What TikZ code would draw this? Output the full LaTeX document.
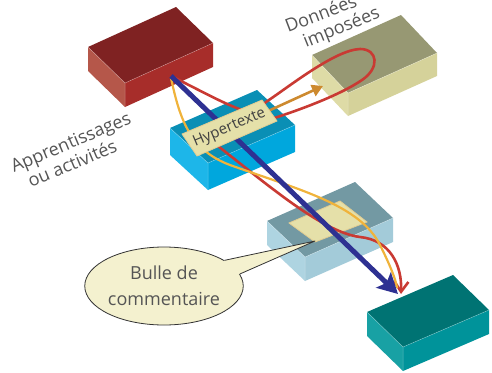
\documentclass[tikz,border=0pt]{standalone}
\usepackage{fontspec}
\setmainfont{Open Sans}
\usetikzlibrary{arrows.meta,shapes.geometric}

\definecolor{apprtop}{HTML}{7F2222}
\definecolor{apprleft}{HTML}{B5574A}
\definecolor{apprright}{HTML}{A72D2A}
\definecolor{datatop}{HTML}{979873}
\definecolor{dataleft}{HTML}{DEDBA6}
\definecolor{dataright}{HTML}{D5D29A}
\definecolor{hyptop}{HTML}{0A8FB5}
\definecolor{hypleft}{HTML}{1DB6E9}
\definecolor{hypright}{HTML}{00A7DD}
\definecolor{comtop}{HTML}{7399A3}
\definecolor{comleft}{HTML}{AED4E1}
\definecolor{comright}{HTML}{A3CBD9}
\definecolor{outtop}{HTML}{007373}
\definecolor{outleft}{HTML}{18A1A4}
\definecolor{outright}{HTML}{00939A}
\definecolor{flowblue}{HTML}{2E3192}
\definecolor{flowred}{HTML}{C93A33}
\definecolor{flowyellow}{HTML}{F0B33B}
\definecolor{floworange}{HTML}{CD8A2F}
\definecolor{paper}{HTML}{E5E0A9}
\definecolor{paperedge}{HTML}{E2CD92}
\definecolor{bubblefill}{HTML}{F4F1CF}
\definecolor{textgrey}{HTML}{555555}

\tikzset{box edge/.style={draw=white,draw opacity=0.35,line width=0.5pt},
         caption/.style={rotate=23,inner sep=0pt,anchor=base west,text=textgrey,font=\fontsize{18}{22}\selectfont},
         hyper label/.style={rotate=23,inner sep=0pt,text=black!75,font=\fontsize{15}{18}\selectfont},
         bubble/.style={ellipse,draw=black!80,fill=bubblefill,line width=0.8pt,minimum width=152pt,minimum height=78pt,inner sep=0pt,align=center,text=textgrey,font=\fontsize{18}{26}\selectfont}
}

% #1 name, #2-#3 front top corner, #4-#5 left side, #6-#7 right side, #8 height, #9 colour prefix
\newcommand{\isobox}[9]{%
  \begin{scope}[shift={(#2,#3)}]
    \coordinate (#1) at (0,0);
    \fill[#9top] (0,0) -- (#4,#5) -- ({#4+#6},{#5+#7}) -- (#6,#7) -- cycle;
    \fill[#9left] (0,0) -- (#4,#5) -- (#4,{#5+#8}) -- (0,#8) -- cycle;
    \fill[#9right] (0,0) -- (#6,#7) -- (#6,{#7+#8}) -- (0,#8) -- cycle;
    \draw[box edge] (#4,#5) -- (0,0) -- (#6,#7) (0,0) -- (0,#8);
  \end{scope}}

\begin{document}
\begin{tikzpicture}[x=1pt,y=-1pt,
    flow/.style={line width=2.6pt,draw=flowred},
    detour/.style={line width=2.2pt,draw=flowyellow},
    main flow/.style={line width=5pt,draw=flowblue,-{Stealth[length=20pt,width=21pt,inset=4pt]}}]
\useasboundingbox (0,0) rectangle (492,372);

% the five blocks
\isobox{appr}{125}{83}{-37}{-36}{88}{-40}{24}{appr}
\isobox{data}{348}{93}{-36}{-38}{89}{-40}{23}{data}
\isobox{hypbox}{208}{163}{-38}{-35}{87}{-38}{27}{hyp}
\isobox{combox}{305}{257}{-38}{-36}{88}{-39}{24}{com}
\isobox{outbox}{403}{347}{-36}{-35}{86}{-37}{24}{out}
\filldraw[fill=paper,draw=paperedge,line width=0.8pt] (289,223) -- (340,201) -- (367,222) -- (315,242) -- cycle;

% ends of the connectors
\coordinate (apprOut) at (173,77);
\coordinate (hypIn) at (248,112);
\coordinate (hypBack) at (268,120);
\coordinate (hypOut) at (205,136);
\coordinate (hypSide) at (266,112);
\coordinate (dataIn) at (323,86);
\coordinate (outIn) at (401,294);

% red path: through the hypertext, round the data block, down to the output
\draw[flow] (apprOut) .. controls (205,93) and (228,106) .. (hypIn)
    .. controls (256,114) and (260,106) .. (266,102)
    .. controls (290,86) and (335,50) .. (360,49)
    .. controls (378,49) and (380,68) .. (362,80)
    .. controls (340,95) and (300,110) .. (hypBack);
\draw[flow,-{Straight Barb[length=10pt,width=14pt]}] (hypOut)
    .. controls (260,178) and (320,232) .. (360,237)
    .. controls (390,240) and (402,265) .. (outIn);

% yellow path
\draw[detour] (171,78) .. controls (180,120) and (190,150) .. (230,165)
    .. controls (300,190) and (360,205) .. (380,245)
    .. controls (390,265) and (396,280) .. (397,288);

\draw[floworange,line width=2.6pt,-{Triangle[length=11pt,width=12pt]}] (hypSide) -- (dataIn);

\draw[main flow] (171,76) -- (398,294);

% hypertext sheet
\filldraw[fill=paper,draw=paperedge,line width=0.8pt] (182,134) -- (262,100) -- (277,121) -- (197,156) -- cycle;
\node[hyper label] (hyp) at (229.5,128) {Hypertexte};

\node[caption] (appr1) at (14,173) {Apprentissages};
\node[caption] (appr2) at (31,188) {ou activités};
\node[caption,rotate=-2] (data1) at (288,33) {Données};
\node[caption,rotate=-1] (data2) at (306,48) {imposées};

% comment bubble
\node[bubble] (bulle) at (164,286) {Bulle de\\commentaire};
\coordinate (tip) at (315,241);
\fill[bubblefill] (bulle.23) -- (tip) -- (bulle.9) -- (215,272) -- cycle;
\draw[black!80,line width=0.8pt,line join=round] (bulle.23) -- (tip) -- (bulle.9);
\end{tikzpicture}
\end{document}
